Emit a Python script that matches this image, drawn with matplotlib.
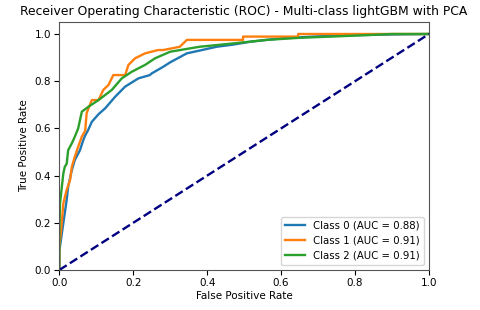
import numpy as np
import matplotlib
matplotlib.use('Agg')
import matplotlib.pyplot as plt

# ROC curve points (fpr, tpr)
fpr0 = [0.0, 0.0, 0.011, 0.02, 0.024, 0.034, 0.042, 0.056, 0.065, 0.07, 0.078, 0.088,
        0.106, 0.124, 0.151, 0.178, 0.214, 0.245, 0.25, 0.281, 0.30, 0.345, 0.38,
        0.426, 0.47, 0.516, 0.56, 0.605, 0.651, 0.70, 0.80, 0.90, 1.0]
tpr0 = [0.0, 0.08, 0.20, 0.297, 0.353, 0.424, 0.466, 0.508, 0.551, 0.57, 0.593, 0.628,
        0.66, 0.685, 0.734, 0.777, 0.812, 0.826, 0.833, 0.861, 0.88, 0.918, 0.93,
        0.946, 0.955, 0.967, 0.975, 0.982, 0.986, 0.99, 0.995, 0.998, 1.0]

fpr1 = [0.0, 0.0, 0.005, 0.011, 0.02, 0.029, 0.034, 0.042, 0.051, 0.061, 0.07, 0.074,
        0.088, 0.106, 0.119, 0.133, 0.146, 0.178, 0.187, 0.205, 0.232, 0.267, 0.281,
        0.326, 0.345, 0.497, 0.497, 0.646, 0.646, 1.0]
tpr1 = [0.0, 0.10, 0.17, 0.283, 0.34, 0.38, 0.438, 0.48, 0.522, 0.565, 0.59, 0.665,
        0.72, 0.72, 0.763, 0.784, 0.826, 0.826, 0.869, 0.897, 0.918, 0.932, 0.932,
        0.946, 0.975, 0.975, 0.989, 0.989, 1.0, 1.0]

fpr2 = [0.0, 0.0, 0.002, 0.006, 0.011, 0.015, 0.02, 0.024, 0.034, 0.042, 0.051, 0.061,
        0.079, 0.106, 0.142, 0.169, 0.196, 0.232, 0.259, 0.30, 0.38, 0.47, 0.561,
        0.651, 0.75, 0.90, 1.0]
tpr2 = [0.0, 0.15, 0.283, 0.34, 0.41, 0.438, 0.45, 0.508, 0.537, 0.565, 0.60, 0.671,
        0.692, 0.72, 0.763, 0.812, 0.84, 0.869, 0.897, 0.925, 0.946, 0.96, 0.975,
        0.984, 0.99, 1.0, 1.0]

aucs = [0.88, 0.91, 0.91]
colors = ['tab:blue', 'tab:orange', 'tab:green']

fig = plt.figure(figsize=(4.8, 3.1), dpi=100)
ax = fig.add_axes([59.3/480, 1-270/310, 369.7/480, 247.8/310])

curves = [(fpr0, tpr0), (fpr1, tpr1), (fpr2, tpr2)]
for i, (f, t) in enumerate(curves):
    ax.plot(f, t, color=colors[i], lw=1.7,
            label='Class {0} (AUC = {1:0.2f})'.format(i, aucs[i]))

ax.plot([0, 1], [0, 1], color='navy', lw=1.7, linestyle='--')

ax.set_xlim([0.0, 1.0])
ax.set_ylim([0.0, 1.05])
ax.set_xlabel('False Positive Rate', fontsize=7.5, labelpad=2)
ax.set_ylabel('True Positive Rate', fontsize=7.5)
ax.set_title('Receiver Operating Characteristic (ROC) - Multi-class lightGBM with PCA',
             fontsize=8.9, pad=5)
ax.tick_params(labelsize=7.5, pad=2.5)
for s in ax.spines.values():
    s.set_color('#555555')
ax.legend(loc='lower right', fontsize=7.3)

plt.savefig('out.png', dpi=100)
